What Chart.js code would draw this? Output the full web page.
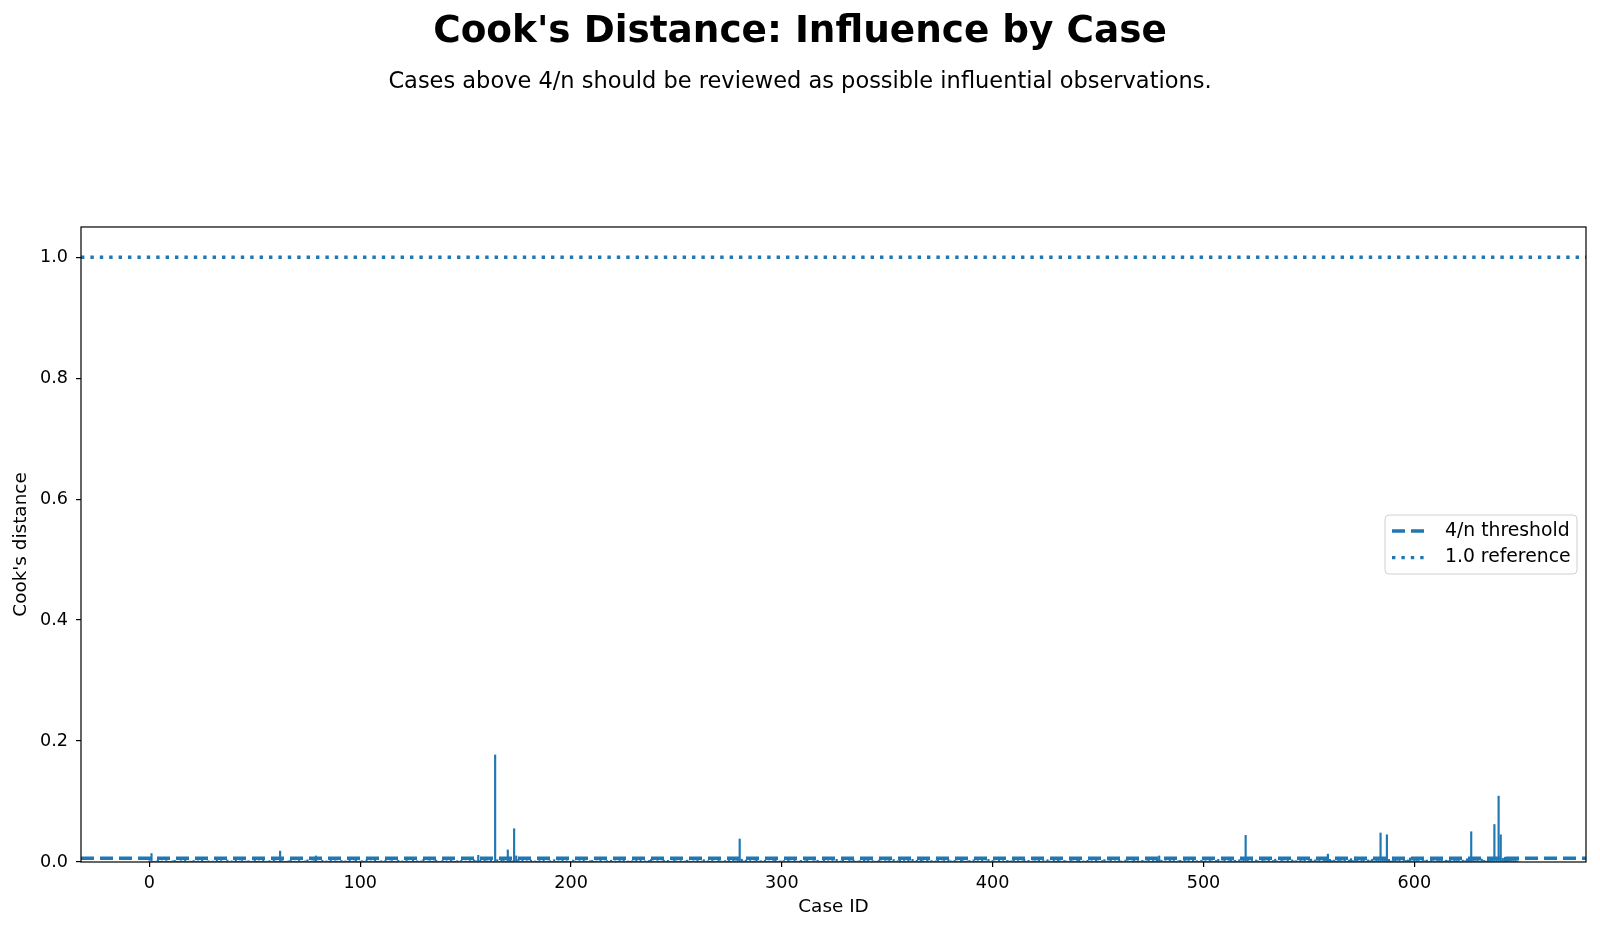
<!DOCTYPE html>
<html>
<head>
<meta charset="utf-8">
<script src="https://cdn.jsdelivr.net/npm/chart.js@4.4.1/dist/chart.umd.min.js"></script>
<style>
  html, body { margin: 0; padding: 0; background: #fff; }
  #wrap { width: 1600px; height: 932px; }
</style>
</head>
<body>
<div id="wrap"><canvas id="c" width="1600" height="932"></canvas></div>
<script>
// Cook's distance per case (case id = position in the list)
const cooksD = [
  0.0021, 0.0140, 0.0008, 0.0012, 0.0031, 0.0005, 0.0017, 0.0009, 0.0024, 0.0011,
  0.0006, 0.0019, 0.0028, 0.0004, 0.0013, 0.0022, 0.0007, 0.0035, 0.0010, 0.0015,
  0.0003, 0.0026, 0.0012, 0.0018, 0.0009, 0.0041, 0.0006, 0.0014, 0.0020, 0.0008,
  0.0016, 0.0011, 0.0029, 0.0005, 0.0023, 0.0013, 0.0007, 0.0033, 0.0010, 0.0019,
  0.0012, 0.0034, 0.0008, 0.0017, 0.0025, 0.0004, 0.0015, 0.0021, 0.0009, 0.0013,
  0.0027, 0.0006, 0.0018, 0.0011, 0.0038, 0.0007, 0.0014, 0.0022, 0.0010, 0.0030,
  0.0016, 0.0009, 0.0180, 0.0024, 0.0012, 0.0005, 0.0019, 0.0031, 0.0008, 0.0015,
  0.0011, 0.0026, 0.0013, 0.0004, 0.0020, 0.0036, 0.0009, 0.0017, 0.0023, 0.0100,
  0.0014, 0.0007, 0.0029, 0.0012, 0.0018, 0.0006, 0.0040, 0.0010, 0.0021, 0.0016,
  0.0008, 0.0025, 0.0013, 0.0019, 0.0005, 0.0032, 0.0011, 0.0017, 0.0027, 0.0009,
  0.0015, 0.0022, 0.0006, 0.0037, 0.0012, 0.0018, 0.0010, 0.0028, 0.0004, 0.0014,
  0.0020, 0.0011, 0.0033, 0.0008, 0.0016, 0.0024, 0.0007, 0.0013, 0.0030, 0.0010,
  0.0018, 0.0005, 0.0026, 0.0014, 0.0009, 0.0039, 0.0012, 0.0021, 0.0007, 0.0017,
  0.0043, 0.0010, 0.0015, 0.0023, 0.0006, 0.0019, 0.0031, 0.0011, 0.0008, 0.0025,
  0.0013, 0.0020, 0.0009, 0.0034, 0.0016, 0.0005, 0.0022, 0.0012, 0.0028, 0.0010,
  0.0017, 0.0007, 0.0024, 0.0014, 0.0036, 0.0019, 0.0110, 0.0027, 0.0012, 0.0045,
  0.0021, 0.0015, 0.0030, 0.0009, 0.1770, 0.0038, 0.0011, 0.0048, 0.0026, 0.0016,
  0.0200, 0.0034, 0.0019, 0.0550, 0.0100, 0.0042, 0.0013, 0.0029, 0.0008, 0.0022,
  0.0014, 0.0031, 0.0010, 0.0018, 0.0006, 0.0025, 0.0012, 0.0037, 0.0009, 0.0016,
  0.0023, 0.0011, 0.0040, 0.0007, 0.0019, 0.0014, 0.0028, 0.0005, 0.0021, 0.0013,
  0.0009, 0.0032, 0.0017, 0.0012, 0.0024, 0.0008, 0.0035, 0.0015, 0.0010, 0.0020,
  0.0027, 0.0006, 0.0018, 0.0013, 0.0041, 0.0011, 0.0016, 0.0023, 0.0009, 0.0030,
  0.0012, 0.0019, 0.0007, 0.0026, 0.0014, 0.0033, 0.0010, 0.0017, 0.0005, 0.0022,
  0.0015, 0.0029, 0.0011, 0.0038, 0.0008, 0.0020, 0.0013, 0.0025, 0.0046, 0.0016,
  0.0010, 0.0023, 0.0006, 0.0018, 0.0031, 0.0012, 0.0027, 0.0009, 0.0015, 0.0036,
  0.0019, 0.0011, 0.0024, 0.0007, 0.0014, 0.0030, 0.0016, 0.0008, 0.0021, 0.0013,
  0.0028, 0.0010, 0.0017, 0.0039, 0.0012, 0.0022, 0.0005, 0.0026, 0.0015, 0.0009,
  0.0034, 0.0018, 0.0011, 0.0024, 0.0014, 0.0029, 0.0008, 0.0044, 0.0020, 0.0051,
  0.0380, 0.0047, 0.0016, 0.0033, 0.0012, 0.0025, 0.0009, 0.0019, 0.0040, 0.0014,
  0.0022, 0.0007, 0.0030, 0.0013, 0.0017, 0.0011, 0.0026, 0.0036, 0.0010, 0.0018,
  0.0015, 0.0024, 0.0008, 0.0032, 0.0019, 0.0012, 0.0041, 0.0016, 0.0006, 0.0027,
  0.0011, 0.0020, 0.0035, 0.0013, 0.0009, 0.0023, 0.0017, 0.0029, 0.0010, 0.0014,
  0.0038, 0.0012, 0.0021, 0.0007, 0.0025, 0.0016, 0.0044, 0.0011, 0.0018, 0.0030,
  0.0013, 0.0009, 0.0026, 0.0019, 0.0034, 0.0008, 0.0015, 0.0022, 0.0012, 0.0028,
  0.0017, 0.0037, 0.0010, 0.0024, 0.0014, 0.0006, 0.0031, 0.0019, 0.0011, 0.0023,
  0.0016, 0.0027, 0.0009, 0.0042, 0.0013, 0.0020, 0.0035, 0.0008, 0.0025, 0.0012,
  0.0039, 0.0018, 0.0045, 0.0011, 0.0029, 0.0015, 0.0049, 0.0021, 0.0010, 0.0033,
  0.0014, 0.0024, 0.0007, 0.0019, 0.0031, 0.0012, 0.0017, 0.0026, 0.0009, 0.0040,
  0.0020, 0.0013, 0.0028, 0.0016, 0.0010, 0.0034, 0.0022, 0.0006, 0.0018, 0.0025,
  0.0011, 0.0037, 0.0015, 0.0021, 0.0008, 0.0030, 0.0014, 0.0019, 0.0043, 0.0012,
  0.0026, 0.0017, 0.0010, 0.0032, 0.0013, 0.0023, 0.0007, 0.0028, 0.0016, 0.0020,
  0.0035, 0.0011, 0.0024, 0.0014, 0.0019, 0.0041, 0.0009, 0.0027, 0.0012, 0.0018,
  0.0022, 0.0015, 0.0033, 0.0008, 0.0025, 0.0013, 0.0038, 0.0017, 0.0010, 0.0029,
  0.0014, 0.0047, 0.0020, 0.0011, 0.0026, 0.0016, 0.0009, 0.0031, 0.0019, 0.0013,
  0.0024, 0.0036, 0.0012, 0.0018, 0.0007, 0.0028, 0.0015, 0.0022, 0.0010, 0.0034,
  0.0017, 0.0011, 0.0025, 0.0040, 0.0014, 0.0019, 0.0030, 0.0008, 0.0021, 0.0013,
  0.0027, 0.0016, 0.0010, 0.0033, 0.0022, 0.0012, 0.0018, 0.0039, 0.0015, 0.0024,
  0.0009, 0.0029, 0.0014, 0.0020, 0.0044, 0.0011, 0.0026, 0.0017, 0.0052, 0.0100,
  0.0031, 0.0013, 0.0021, 0.0008, 0.0036, 0.0016, 0.0024, 0.0011, 0.0019, 0.0028,
  0.0012, 0.0034, 0.0018, 0.0025, 0.0010, 0.0041, 0.0015, 0.0022, 0.0007, 0.0030,
  0.0016, 0.0023, 0.0013, 0.0037, 0.0019, 0.0011, 0.0027, 0.0045, 0.0014, 0.0020,
  0.0033, 0.0010, 0.0024, 0.0050, 0.0017, 0.0029, 0.0012, 0.0038, 0.0021, 0.0055,
  0.0440, 0.0042, 0.0015, 0.0026, 0.0011, 0.0034, 0.0019, 0.0013, 0.0028, 0.0022,
  0.0016, 0.0039, 0.0010, 0.0024, 0.0047, 0.0018, 0.0012, 0.0031, 0.0020, 0.0014,
  0.0027, 0.0009, 0.0035, 0.0017, 0.0023, 0.0013, 0.0042, 0.0019, 0.0030, 0.0011,
  0.0025, 0.0048, 0.0016, 0.0036, 0.0021, 0.0053, 0.0014, 0.0040, 0.0058, 0.0130,
  0.0044, 0.0022, 0.0031, 0.0015, 0.0037, 0.0026, 0.0018, 0.0049, 0.0012, 0.0033,
  0.0056, 0.0024, 0.0080, 0.0041, 0.0017, 0.0029, 0.0052, 0.0013, 0.0035, 0.0021,
  0.0046, 0.0019, 0.0038, 0.0027, 0.0480, 0.0032, 0.0057, 0.0450, 0.0043, 0.0016,
  0.0029, 0.0050, 0.0022, 0.0036, 0.0014, 0.0041, 0.0025, 0.0033, 0.0068, 0.0019,
  0.0055, 0.0027, 0.0039, 0.0015, 0.0046, 0.0021, 0.0032, 0.0012, 0.0044, 0.0024,
  0.0018, 0.0037, 0.0026, 0.0051, 0.0014, 0.0030, 0.0022, 0.0042, 0.0017, 0.0035,
  0.0025, 0.0047, 0.0013, 0.0031, 0.0020, 0.0054, 0.0038, 0.0500, 0.0044, 0.0023,
  0.0036, 0.0019, 0.0049, 0.0028, 0.0016, 0.0040, 0.0057, 0.0034, 0.0620, 0.0052,
  0.1090, 0.0450, 0.0060, 0.0080, 0.0043, 0.0031, 0.0055, 0.0026, 0.0039, 0.0021
];
const xTicks = [0, 100, 200, 300, 400, 500, 600];
const yTicks = [0.0, 0.2, 0.4, 0.6, 0.8, 1.0];
const threshold = 4 / cooksD.length;   // 4/n
const refLevel = 1.0;

const BLUE = "#1f77b4";
const FONT = "'DejaVu Sans', sans-serif";

const n = cooksD.length;
const pad = 0.05 * (n - 1);
const xMin = -pad, xMax = n - 1 + pad;

// Legend drawn inside the axes, like matplotlib's "center right"
const insideLegend = {
  id: "insideLegend",
  afterDraw(chart) {
    const ctx = chart.ctx;
    const items = chart.data.datasets.filter(d => d.type === "line");
    const bx = 1385, by = 515, bw = 192, bh = 59;
    ctx.save();
    ctx.beginPath();
    ctx.roundRect(bx, by, bw, bh, 4);
    ctx.fillStyle = "rgba(255,255,255,0.8)";
    ctx.fill();
    ctx.strokeStyle = "#d0d0d0";
    ctx.lineWidth = 1;
    ctx.stroke();
    items.forEach((d, i) => {
      const y = by + 16 + i * 26.6;
      ctx.beginPath();
      ctx.setLineDash(d.borderDash);
      ctx.strokeStyle = d.borderColor;
      ctx.lineWidth = d.borderWidth;
      ctx.moveTo(bx + 7, y);
      ctx.lineTo(bx + 41, y);
      ctx.stroke();
      ctx.setLineDash([]);
      ctx.fillStyle = "#000";
      ctx.font = "18.8px " + FONT;
      ctx.textBaseline = "middle";
      ctx.textAlign = "left";
      ctx.fillText(d.label, bx + 60, y);
    });
    ctx.restore();
  }
};

// full box frame around the plot area
const frame = {
  id: "frame",
  afterDraw(chart) {
    const { ctx, chartArea: a } = chart;
    ctx.save();
    ctx.strokeStyle = "#000";
    ctx.lineWidth = 1.2;
    ctx.strokeRect(a.left, a.top, a.right - a.left, a.bottom - a.top);
    ctx.restore();
  }
};

new Chart(document.getElementById("c"), {
  type: "bar",
  data: {
    datasets: [
      {
        type: "line",
        label: "4/n threshold",
        data: [{ x: xMin, y: threshold }, { x: xMax, y: threshold }],
        borderColor: BLUE,
        borderWidth: 3.4,
        borderDash: [13, 6],
        pointRadius: 0,
        order: 0
      },
      {
        type: "line",
        label: "1.0 reference",
        data: [{ x: xMin, y: refLevel }, { x: xMax, y: refLevel }],
        borderColor: BLUE,
        borderWidth: 3.4,
        borderDash: [3.4, 6],
        pointRadius: 0,
        order: 0
      },
      {
        type: "bar",
        label: "Cook's distance",
        data: cooksD.map((v, i) => ({ x: i, y: v })),
        backgroundColor: BLUE,
        barThickness: 1.5,
        order: 1
      }
    ]
  },
  options: {
    responsive: false,
    animation: false,
    events: [],
    layout: { padding: { left: 0, right: 0, top: 0, bottom: 0 } },
    plugins: {
      legend: { display: false },
      tooltip: { enabled: false },
      title: {
        display: true,
        text: "Cook's Distance: Influence by Case",
        color: "#000",
        font: { family: FONT, size: 37.4, weight: "bold", lineHeight: 1.2 },
        padding: { top: 9.6, bottom: 0 }
      },
      subtitle: {
        display: true,
        text: "Cases above 4/n should be reviewed as possible influential observations.",
        color: "#000",
        font: { family: FONT, size: 22.5, lineHeight: 1.2 },
        padding: { top: 14, bottom: 131.5 }
      }
    },
    scales: {
      x: {
        type: "linear",
        min: xMin,
        max: xMax,
        offset: false,
        afterBuildTicks: s => { s.ticks = xTicks.map(v => ({ value: v })); },
        afterFit: s => { s.height = 70; },
        grid: { drawOnChartArea: false, offset: false, color: "#000", tickLength: 5, lineWidth: 1.2 },
        border: { display: false },
        ticks: { color: "#000", font: { family: FONT, size: 17.6 }, padding: 6, maxRotation: 0 },
        title: {
          display: true, text: "Case ID", color: "#000",
          font: { family: FONT, size: 18.4, lineHeight: 1.2 },
          padding: { top: 0, bottom: 13.6 }
        }
      },
      y: {
        position: "left",
        min: 0,
        max: 1.05,
        afterBuildTicks: s => { s.ticks = yTicks.map(v => ({ value: v })); },
        afterFit: s => { s.width = 81; },
        grid: { drawOnChartArea: false, color: "#000", tickLength: 5, lineWidth: 1.2 },
        border: { display: false },
        ticks: {
          color: "#000", font: { family: FONT, size: 17.6 }, padding: 8,
          callback: v => v.toFixed(1)
        },
        title: {
          display: true, text: "Cook's distance", color: "#000",
          font: { family: FONT, size: 18.4, lineHeight: 1.2 },
          padding: { top: 10, bottom: 0 }
        }
      },
      yR: {
        position: "right",
        display: true,
        afterFit: s => { s.width = 14; },
        grid: { display: false },
        border: { display: false },
        ticks: { display: false }
      }
    }
  },
  plugins: [insideLegend, frame]
});
</script>
</body>
</html>
